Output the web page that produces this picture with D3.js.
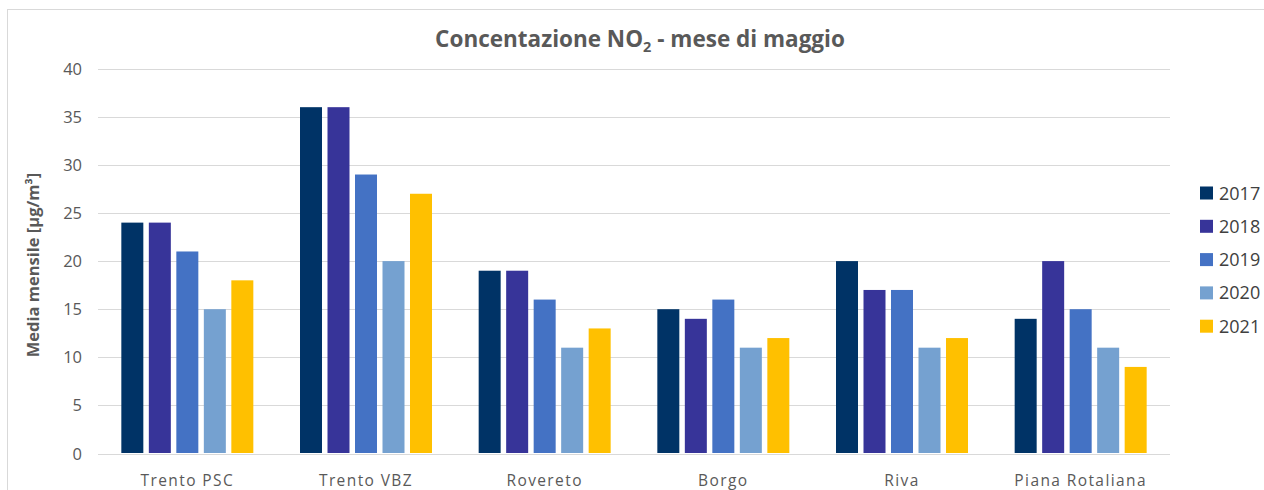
<!DOCTYPE html>
<html><head><meta charset="utf-8">
<script src="https://cdn.jsdelivr.net/npm/d3@7"></script>
<style>body{margin:0;background:#fff}svg{display:block}</style>
</head><body>
<svg id="c" width="1264" height="490"></svg>
<script>
const categories = ["Trento PSC","Trento VBZ","Rovereto","Borgo","Riva","Piana Rotaliana"];
const years = ["2017","2018","2019","2020","2021"];
const v2017 = [24,36,19,15,20,14];
const v2018 = [24,36,19,14,17,20];
const v2019 = [21,29,16,16,17,15];
const v2020 = [15,20,11,11,11,11];
const v2021 = [18,27,13,12,12,9];
const yTicks = [0,5,10,15,20,25,30,35,40];
const colors = ["#003366","#373499","#4472C4","#75A1D0","#FFC000"];
const seriesVals = [v2017,v2018,v2019,v2020,v2021];

const font = "Open Sans, sans-serif";
const svg = d3.select("#c");
svg.append("rect").attr("x",7.5).attr("y",9.5).attr("width",1300).attr("height",600)
  .attr("fill","#fff").attr("stroke","#d9d9d9");

const L=98, R=1170, T=68.7, B=453.5;
const y = d3.scaleLinear().domain([0,40]).range([B,T]);
const x0 = d3.scaleBand().domain(categories).range([L,R]).padding(0);
const x1 = d3.scaleBand().domain(years).range([0,132]).paddingInner(0.2);
const off = (x0.bandwidth()-132)/2;

svg.append("g").selectAll("line").data(yTicks).join("line")
  .attr("x1",L).attr("x2",R).attr("y1",d=>Math.round(y(d))+0.5).attr("y2",d=>Math.round(y(d))+0.5)
  .attr("stroke","#d9d9d9").attr("stroke-width",1);
svg.append("g").selectAll("text").data(yTicks).join("text")
  .attr("x",82).attr("y",d=>y(d)+6).attr("text-anchor","end")
  .attr("font-family",font).attr("font-size",16.5).attr("fill","#595959").text(d=>d);

const g = svg.append("g");
categories.forEach((c,ci)=>{
  years.forEach((yr,si)=>{
    const v = seriesVals[si][ci];
    g.append("rect").attr("x",x0(c)+off+x1(yr)).attr("width",x1.bandwidth())
      .attr("y",y(v)).attr("height",B-0.5-y(v)).attr("fill",colors[si]);
  });
});

svg.append("g").selectAll("text").data(categories).join("text")
  .attr("x",d=>x0(d)+x0.bandwidth()/2).attr("y",486).attr("text-anchor","middle")
  .attr("font-family",font).attr("font-size",15.5).attr("letter-spacing","1.4px").attr("fill","#595959").text(d=>d);

const t = svg.append("text").attr("x",640).attr("y",47).attr("text-anchor","middle")
  .attr("font-family",font).attr("font-weight","bold").attr("font-size",22.5).attr("fill","#595959");
t.append("tspan").text("Concentazione NO");
t.append("tspan").attr("font-size",14.5).attr("dy",5).text("2");
t.append("tspan").attr("dy",-5).text(" - mese di maggio");

svg.append("text").attr("transform","translate(39,265) rotate(-90)").attr("text-anchor","middle")
  .attr("font-family",font).attr("font-weight","bold").attr("font-size",16.5).attr("fill","#595959")
  .text("Media mensile [µg/m³]");

const lg = svg.append("g");
years.forEach((yr,i)=>{
  const yy = 193 + i*33.3;
  lg.append("rect").attr("x",1200).attr("y",yy-6.5).attr("width",13).attr("height",13).attr("fill",colors[i]);
  lg.append("text").attr("x",1219).attr("y",yy+6.5).attr("font-family",font).attr("font-size",18)
    .attr("fill","#404040").text(yr);
});
</script>
</body></html>
